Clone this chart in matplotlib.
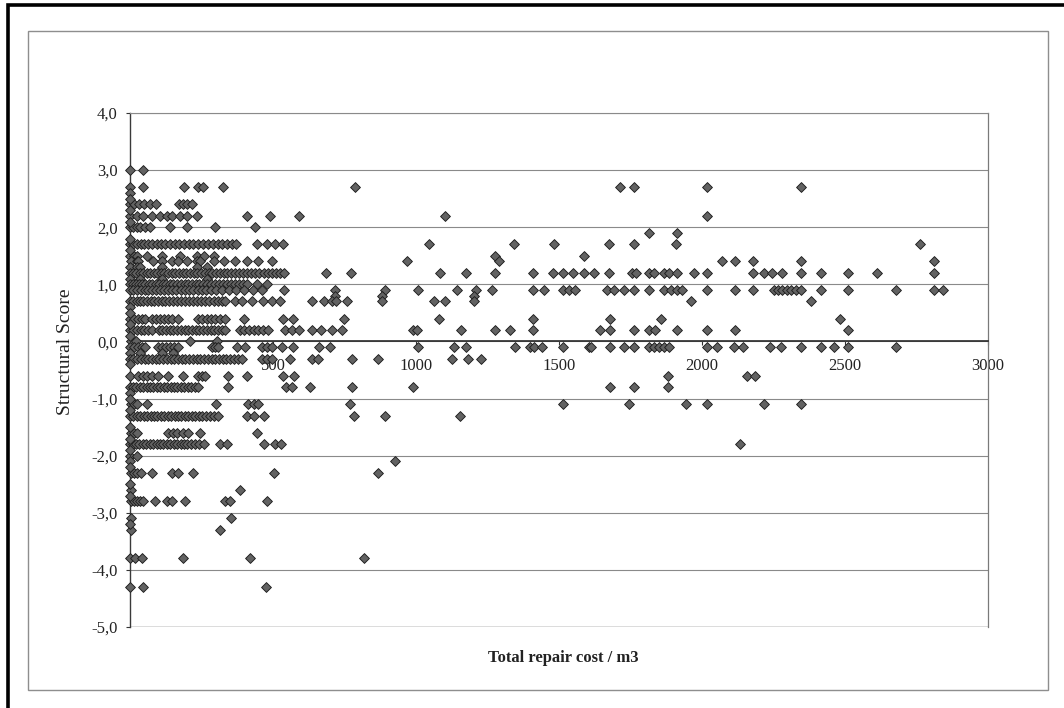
import matplotlib
matplotlib.use("Agg")
import matplotlib.pyplot as plt
from matplotlib.patches import Rectangle

plt.rcParams['font.family'] = ['Liberation Serif', 'DejaVu Serif']

# ---------------- data (cost per m3 grouped by structural score) ----------------
cost_p30 = [0, 45]
cost_p27 = [0, 45, 190, 237, 255, 325, 787, 1713, 1762, 2016, 2345]
cost_p24 = [0, 14, 32, 50, 70, 92, 170, 186, 200, 216]
cost_p22 = [0, 23, 47, 76, 105, 128, 146, 175, 198, 233, 408, 490, 592, 1100, 2016]
cost_p20 = [0, 12, 24, 36, 52, 70, 140, 200, 297, 437]
cost_p19 = [1816, 1913]
cost_p17 = [0, 11, 24, 37, 50, 63, 78, 93, 108, 124, 139, 156, 172, 189, 205, 222,
            238, 256, 272, 290, 307, 323, 340, 356, 372, 443, 478, 507, 534, 1046,
            1344, 1482, 1674, 1762, 1908, 2763]
cost_p15 = [0, 14, 23, 60, 111, 175, 233, 260, 292, 1277, 1589]
cost_p14 = [2, 23, 29, 82, 111, 146, 169, 198, 233, 245, 292, 327, 367, 408, 449,
            496, 968, 1289, 2071, 2115, 2178, 2345, 2812]
cost_p13 = [0, 23, 35, 111, 233, 268]
cost_p12 = [0, 10, 22, 34, 46, 58, 70, 83, 95, 108, 120, 133, 146, 158, 171, 184,
            197, 210, 223, 236, 249, 262, 275, 288, 301, 314, 327, 340, 353, 366,
            380, 394, 408, 423, 437, 452, 467, 482, 497, 512, 526, 537, 685, 773,
            1085, 1176, 1275, 1409, 1479, 1513, 1549, 1587, 1624, 1674, 1756, 1770,
            1814, 1832, 1867, 1884, 1913, 1972, 2016, 2178, 2217, 2246, 2281, 2345,
            2415, 2512, 2613, 2812]
cost_p11 = [0, 35, 111, 268]
cost_p10 = [0, 9, 20, 31, 42, 54, 66, 78, 90, 102, 114, 126, 139, 152, 165, 178,
            191, 204, 217, 230, 243, 256, 269, 282, 296, 310, 324, 338, 352, 366,
            380, 395, 408, 443, 478]
cost_p09 = [0, 12, 25, 38, 51, 64, 78, 92, 106, 120, 134, 148, 162, 177, 192, 207,
            222, 237, 252, 267, 283, 299, 320, 345, 372, 400, 430, 462, 537, 717,
            892, 1007, 1143, 1211, 1264, 1409, 1447, 1513, 1534, 1557, 1668, 1692,
            1729, 1762, 1816, 1867, 1890, 1913, 1931, 2016, 2115, 2178, 2252, 2266,
            2281, 2296, 2310, 2328, 2345, 2415, 2512, 2678, 2812, 2844]
cost_p08 = [717, 881, 1204]
cost_p07 = [0, 11, 23, 35, 47, 59, 72, 85, 98, 111, 124, 137, 150, 164, 178, 192,
            206, 220, 234, 248, 262, 277, 292, 307, 322, 333, 367, 390, 426, 466,
            496, 525, 638, 677, 708, 722, 758, 881, 1062, 1100, 1204, 1960, 2380]
cost_p04 = [0, 14, 28, 42, 52, 76, 90, 105, 120, 134, 146, 169, 239, 252, 268, 283,
            298, 315, 333, 397, 535, 570, 747, 1079, 1409, 1680, 1858, 2483]
cost_p02 = [0, 12, 24, 37, 50, 63, 76, 100, 113, 126, 139, 152, 165, 178, 191, 204,
            217, 230, 243, 256, 269, 282, 295, 308, 321, 333, 385, 400, 416, 432,
            448, 466, 484, 543, 566, 592, 638, 668, 708, 743, 990, 1005, 1158, 1275,
            1328, 1409, 1645, 1680, 1762, 1814, 1834, 1913, 2016, 2115, 2512]
cost_p00 = [5, 20, 210, 303]
cost_m01 = [0, 14, 28, 42, 52, 99, 112, 125, 140, 155, 169, 286, 298, 309, 373, 403,
            461, 478, 496, 531, 570, 662, 700, 1007, 1134, 1175, 1345, 1400, 1412,
            1441, 1513, 1604, 1612, 1680, 1729, 1762, 1814, 1832, 1849, 1866, 1884,
            2016, 2053, 2112, 2144, 2238, 2275, 2345, 2415, 2462, 2512, 2678]
cost_m02 = [0, 35, 112, 150]
cost_m03 = [0, 12, 25, 38, 51, 64, 77, 90, 103, 116, 129, 142, 155, 168, 181, 194,
            207, 220, 233, 246, 259, 272, 285, 298, 311, 324, 337, 350, 364, 378,
            391, 461, 478, 496, 560, 636, 659, 776, 867, 1126, 1182, 1228]
cost_m06 = [0, 29, 45, 60, 76, 99, 134, 187, 239, 251, 262, 344, 408, 535, 572,
            1881, 2156, 2184]
cost_m08 = [0, 11, 22, 34, 46, 58, 70, 82, 94, 106, 118, 130, 142, 154, 166, 178,
            190, 202, 214, 226, 239, 344, 545, 566, 630, 776, 989, 1680, 1762, 1881]
cost_m11 = [2, 14, 23, 58, 301, 414, 432, 449, 770, 1513, 1744, 1945, 2016, 2217, 2345]
cost_m13 = [0, 12, 24, 36, 48, 60, 72, 84, 96, 108, 120, 132, 144, 156, 168, 180,
            192, 204, 216, 228, 240, 253, 266, 280, 295, 309, 408, 432, 467, 784,
            892, 1153]
cost_m16 = [2, 14, 23, 134, 150, 163, 185, 204, 245, 443]
cost_m18 = [0, 11, 22, 33, 45, 57, 69, 81, 93, 105, 117, 129, 141, 153, 165, 177,
            189, 201, 213, 226, 240, 257, 315, 338, 467, 507, 528, 2133]
cost_m20 = [0, 23]
cost_m21 = [0, 925]
cost_m23 = [2, 14, 23, 40, 76, 146, 169, 222, 502, 866]
cost_m26 = [2, 385]
cost_m28 = [2, 14, 23, 35, 47, 88, 128, 146, 192, 332, 350, 478]
cost_m31 = [2, 353]
cost_m33 = [2, 315]
cost_m38 = [0, 17, 41, 186, 420, 817]
cost_m43 = [0, 45, 475]

# single projects with zero cost at other score values
zero_cost_scores = [2.6, 2.5, 2.3, 2.1, 1.8, 1.6, 0.6, 0.5, 0.3, 0.1, -0.4, -0.9,
                    -1.0, -1.2, -1.5, -1.7, -1.9, -2.2, -2.5, -2.7, -3.2]

score_groups = [
    (3.0, cost_p30), (2.7, cost_p27), (2.4, cost_p24), (2.2, cost_p22),
    (2.0, cost_p20), (1.9, cost_p19), (1.7, cost_p17), (1.5, cost_p15),
    (1.4, cost_p14), (1.3, cost_p13), (1.2, cost_p12), (1.1, cost_p11),
    (1.0, cost_p10), (0.9, cost_p09), (0.8, cost_p08), (0.7, cost_p07),
    (0.4, cost_p04), (0.2, cost_p02), (0.0, cost_p00), (-0.1, cost_m01),
    (-0.2, cost_m02), (-0.3, cost_m03), (-0.6, cost_m06), (-0.8, cost_m08),
    (-1.1, cost_m11), (-1.3, cost_m13), (-1.6, cost_m16), (-1.8, cost_m18),
    (-2.0, cost_m20), (-2.1, cost_m21), (-2.3, cost_m23), (-2.6, cost_m26),
    (-2.8, cost_m28), (-3.1, cost_m31), (-3.3, cost_m33), (-3.8, cost_m38),
    (-4.3, cost_m43),
]

x_ticks = [500, 1000, 1500, 2000, 2500, 3000]
y_ticks = [-5, -4, -3, -2, -1, 0, 1, 2, 3, 4]

costs, scores = [], []
for s, cl in score_groups:
    costs.extend(cl)
    scores.extend([s] * len(cl))
for s in zero_cost_scores:
    costs.append(0)
    scores.append(s)

# ---------------- figure ----------------
W, H = 1064, 708
fig = plt.figure(figsize=(W / 100, H / 100), dpi=100)
fig.patch.set_facecolor('white')

# outer black frame (scan page border: left and top visible)
fig.add_artist(Rectangle((8 / W, -0.05), 1.2, 1 - 5 / H + 0.05,
                         transform=fig.transFigure, fill=False,
                         ec='black', lw=2.6))
# chart area frame
fig.add_artist(Rectangle((28 / W, 1 - 690 / H), (1048 - 28) / W, (690 - 31) / H,
                         transform=fig.transFigure, fill=False,
                         ec='#8e8e8e', lw=1.0))

ax = fig.add_axes([130 / W, 1 - 627 / H, (988 - 130) / W, (627 - 113) / H])
ax.set_xlim(0, 3000)
ax.set_ylim(-5, 4)
ax.set_facecolor('none')

ax.set_yticks(y_ticks)
ax.set_yticklabels([f"{v:.1f}".replace('.', ',') for v in y_ticks])
ax.set_xticks(x_ticks)
ax.set_xticklabels([str(v) for v in x_ticks])

ax.grid(axis='y', color='#8a8a8a', lw=0.8)
ax.set_axisbelow(True)

ax.spines['bottom'].set_position(('data', 0))
ax.spines['bottom'].set_color('#2a2a2a')
ax.spines['bottom'].set_linewidth(1.2)
ax.spines['left'].set_color('#3a3a3a')
ax.spines['left'].set_linewidth(1.0)
ax.spines['right'].set_color('#7a7a7a')
ax.spines['right'].set_linewidth(0.9)
ax.spines['top'].set_color('#8a8a8a')
ax.spines['top'].set_linewidth(0.8)
ax.axhline(-5, color='#6a6a6a', lw=1.0, zorder=1)

ax.tick_params(axis='y', direction='out', length=3, width=0.8, pad=6,
               labelsize=12, colors='#333333', labelcolor='#222222')
ax.tick_params(axis='x', direction='out', length=3, width=0.8, pad=9,
               labelsize=12, colors='#333333', labelcolor='#222222')

ax.scatter(costs, scores, marker='D', s=25, c='#626262', edgecolors='#1e1e1e',
           linewidths=0.65, zorder=3, clip_on=False)

fig.text(563 / W, 1 - 658 / H, 'Total repair cost / m3', fontsize=12,
         fontweight='bold', ha='center', va='center', color='#222222')
fig.text(66 / W, 1 - 352 / H, 'Structural Score', fontsize=14, rotation=90,
         ha='center', va='center', color='#222222')

fig.savefig('out.png', dpi=100)
